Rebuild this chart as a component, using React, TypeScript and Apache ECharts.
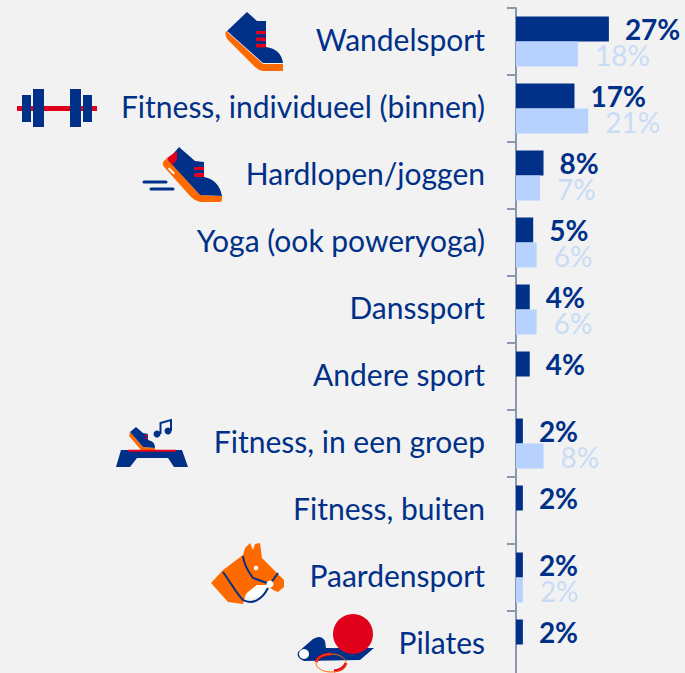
import React, { useEffect, useRef } from "react";
import * as echarts from "echarts";

const categories = [
  "Wandelsport",
  "Fitness, individueel (binnen)",
  "Hardlopen/joggen",
  "Yoga (ook poweryoga)",
  "Danssport",
  "Andere sport",
  "Fitness, in een groep",
  "Fitness, buiten",
  "Paardensport",
  "Pilates",
];
const current = [27, 17, 8, 5, 4, 4, 2, 2, 2, 2];
const previous = [18, 21, 7, 6, 6, null, 8, null, 2, null];

const NAVY = "#003087";
const LIGHT = "#b7d2ff";
const LIGHT_TEXT = "#c9dcf6";
const ORANGE = "#ff6a00";
const RED = "#e0001b";
const WHITE = "#ffffff";

const iconPaths: [string, string, any][] = [
  // walking shoe
  ["M226,31 L263,64 L283,64 L283,71 L263,71 Q258,70 255,67 L228,40 Q224,35 226,31 Z", ORANGE, null],
  ["M247,12 L257,21 L266,21 L266,47 Q281,49 283,63 L263,63 L227,31 Z", NAVY, null],
  ["M256,31 H266 V34 H256 Z M256,37.5 H266 V41 H256 Z M256,44 H266 V47.5 H256 Z", RED, null],
  // dumbbell
  ["M17,106 H97 V111 H17 Z", RED, null],
  ["M22,95 H31 V122 H22 Z M33,89 H44 V127 H33 Z M70,89 H81 V127 H70 Z M83,95 H92 V122 H83 Z", NAVY, null],
  // running shoe
  ["M163,162 L167,158 L200,195 L222,196 L222,200 Q222,202 218,202 L200,202 Q195,201 191,197 L165,168 Q162,165 163,162 Z", ORANGE, null],
  ["M179,147 L195,161 L204,162 L204,177 Q219,180 222,196 L200,195 L168,160 Z", NAVY, null],
  ["M167,158 L177,151 L177,160 L172,165 Z", RED, null],
  ["M194,167 H204 V170 H194 Z M194,173 H204 V177 H194 Z", RED, null],
  ["M169.5,167.5 L175,173 L173.5,174.5 L168,169 Z", WHITE, null],
  ["M144,182 H166 M151,189 H173", "none", { stroke: NAVY, lineWidth: 3, lineCap: "round" }],
  // step
  ["M121,450 H182 L188,467 H174 L168,458 H137 L130,467 H116 Z", NAVY, null],
  ["M130,432 L143,447 L155,448 L155,450 L141,450 L129,436 Z", ORANGE, null],
  ["M136,427 L143,433 L148,434 L148,440 Q155,441 155,448 L143,447 L130,432 Z", NAVY, null],
  ["M145,434.5 H148 V436 H145 Z M145,437.5 H148 V439 H145 Z", RED, null],
  ["M128,449.7 H176 V451.7 H128 Z", RED, null],
  ["M160.5,434 V423 L171,420 V431", "none", { stroke: NAVY, lineWidth: 2 }],
  // horse
  ["M211,583 L223,570 L243,555 L245,548 L250,543 L253,550 L255,544 L260,543 L262,558 L277,573 L284,580 L284,587 L278,592 L273,590 L267,585 L257,585 L247,593 L245,597 L243,604 L228,602 Z", ORANGE, null],
  ["M257,585 L267,585 L260,597 L245,597 L247,593 Z", WHITE, null],
  ["M223,572 C231,583 236,593 243,600 C252,605 262,600 268,588", "none", { stroke: NAVY, lineWidth: 2 }],
  ["M243,556 Q244,566 253,578 L270,584 L278,573", "none", { stroke: NAVY, lineWidth: 2 }],
  // pilates
  ["M298,652 L313,639 Q321,634 325,641 L326,648 L374,648 L360,660 L304,661 Q296,658 298,652 Z", NAVY, null],
  ["M316,662 Q318,655 331,654", "none", { stroke: RED, lineWidth: 3 }],
  ["M346,663 Q344,670 334,671", "none", { stroke: RED, lineWidth: 3 }],
];

iconPaths.forEach(([d], i) => {
  echarts.graphic.registerShape("icon" + i, echarts.graphic.extendPath(d, {}));
});

export default function App() {
  const ref = useRef<HTMLDivElement>(null);
  useEffect(() => {
    const chart = echarts.init(ref.current!, undefined, { renderer: "svg" });
    const graphic: any[] = iconPaths.map(([, fill, extra], i) => ({
      type: "icon" + i,
      x: 0,
      y: 0,
      silent: true,
      z: 10,
      style: { fill, ...(extra || {}) },
    }));
    graphic.push(
      { type: "circle", shape: { cx: 157, cy: 434, r: 3.5 }, style: { fill: NAVY }, z: 11 },
      { type: "circle", shape: { cx: 168, cy: 431, r: 3.5 }, style: { fill: NAVY }, z: 11 },
      { type: "circle", shape: { cx: 270, cy: 584, r: 3.5 }, style: { fill: WHITE }, z: 11 },
      { type: "circle", shape: { cx: 256, cy: 568, r: 2.3 }, style: { fill: WHITE }, z: 11 },
      { type: "circle", shape: { cx: 304, cy: 654, r: 5 }, style: { fill: WHITE }, z: 11 },
      { type: "circle", shape: { cx: 353, cy: 634, r: 20 }, style: { fill: RED }, z: 11 },
      {
        type: "ellipse",
        shape: { cx: 331, cy: 663, rx: 15, ry: 9 },
        style: { fill: "none", stroke: ORANGE, lineWidth: 1 },
        z: 10,
      }
    );
    chart.setOption({
      animation: false,
      backgroundColor: "#f2f2f2",
      grid: { left: 516, top: 8, width: 172, height: 670, containLabel: false, outerBoundsMode: "none" },
      xAxis: { type: "value", min: 0, max: 50, show: false },
      yAxis: {
        type: "category",
        inverse: true,
        data: categories,
        axisLine: { show: true, lineStyle: { color: "#8c96b0", width: 2 } },
        axisTick: { show: true, length: 9, lineStyle: { color: "#8c96b0", width: 2 } },
        axisLabel: {
          margin: 31,
          interval: 0,
          formatter: "{a|{value}}",
          rich: {
            a: {
              color: NAVY,
              fontFamily: "Lato",
              fontSize: 30,
              padding: [0, 0, 5, 0],
            },
          },
        },
      },
      series: [
        {
          type: "bar",
          data: current,
          barWidth: 25,
          barGap: 0,
          itemStyle: { color: NAVY },
          label: {
            show: true,
            position: "right",
            distance: 16,
            formatter: "{c}%",
            color: NAVY,
            fontFamily: "Lato",
            fontSize: 28,
            fontWeight: "bold",
          },
        },
        {
          type: "bar",
          data: previous,
          barWidth: 25,
          itemStyle: { color: LIGHT },
          label: {
            show: true,
            position: "right",
            distance: 17,
            offset: [0, 1],
            formatter: "{c}%",
            color: LIGHT_TEXT,
            fontFamily: "Lato",
            fontSize: 28,
          },
        },
      ],
      graphic,
    });
    return () => chart.dispose();
  }, []);
  return (
    <div
      ref={ref}
      style={{ position: "absolute", left: 0, top: 0, width: 685, height: 673 }}
    />
  );
}
